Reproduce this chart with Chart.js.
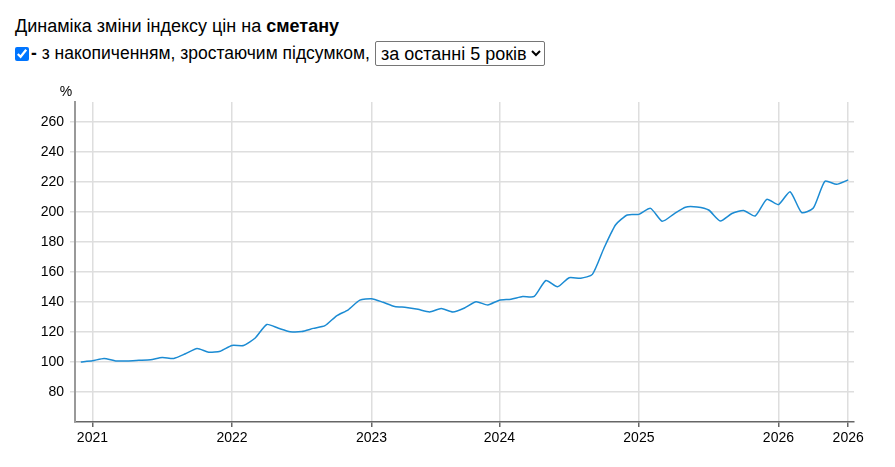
<!DOCTYPE html>
<html>
<head>
<meta charset="utf-8">
<script src="https://cdn.jsdelivr.net/npm/chart.js@4"></script>
<style>
  html, body { margin: 0; padding: 0; background: #fff; }
  body { width: 895px; height: 467px; position: relative; overflow: hidden; font-family: "Liberation Sans", Arial, sans-serif; font-size: 18px; color: #000; }
  #hdr { position: absolute; left: 15px; top: 16px; line-height: 21px; }
  #hdr .row2 { margin-top: 4px; display: flex; align-items: center; height: 25px; font-size: 17.5px; }
  #hdr input { margin: 0 2px 0 0; width: 14px; height: 14px; }
  #hdr select { font-family: "Liberation Sans", Arial, sans-serif; font-size: 18px; height: 25px; margin-left: 5px; padding: 0 1px; border: 1px solid #767676; border-radius: 2px; background: #fff; color: #000; }
  #wrap { position: absolute; left: 0; top: 85px; width: 895px; height: 382px; }
</style>
</head>
<body>
<div id="hdr">
  <div>Динаміка зміни індексу цін на <b>сметану</b></div>
  <div class="row2"><input type="checkbox" checked><b>-</b>&nbsp;з накопиченням, зростаючим підсумком, <select><option>за останні 5 років</option></select></div>
</div>
<div id="wrap"><canvas id="c"></canvas></div>
<script>
// Categories (monthly observations)
const months = [
  '2020-12',
  '2021-01','2021-02','2021-03','2021-04','2021-05','2021-06','2021-07','2021-08','2021-09','2021-10','2021-11','2021-12',
  '2022-01','2022-02','2022-03','2022-04','2022-05','2022-06','2022-07','2022-08','2022-09','2022-10','2022-11','2022-12',
  '2023-01','2023-02','2023-03','2023-04','2023-05','2023-06','2023-08','2023-09','2023-10','2023-11','2023-12',
  '2024-01','2024-02','2024-03','2024-04','2024-05','2024-06','2024-07','2024-08','2024-09','2024-10','2024-11','2024-12',
  '2025-01','2025-02','2025-03','2025-04','2025-05','2025-06','2025-07','2025-08','2025-09','2025-10','2025-11','2025-12',
  '2026-01','2026-02','2026-03','2026-04','2026-05','2026-06','2026-07'
];
// Cumulative price index, %
const priceIndex = [
  100.0,
  100.8, 102.4, 100.7, 100.7, 101.1, 101.5, 103.0, 102.4, 105.5, 109.0, 106.5, 107.2,
  111.0, 111.0, 116.0, 125.0, 122.5, 120.2, 120.3, 122.4, 124.2, 130.8, 134.8, 141.2,
  142.2, 139.8, 137.0, 136.4, 135.1, 133.4, 135.6, 133.3, 136.0, 140.2, 138.0,
  141.2, 141.8, 143.6, 143.7, 154.3, 150.1, 156.2, 155.8, 158.4, 176.0, 191.5, 198.0,
  198.4, 202.4, 193.8, 198.6, 203.2, 203.3, 201.3, 194.0, 199.0, 201.0, 197.3, 208.4,
  204.9, 213.5, 199.6, 202.6, 220.5, 218.4, 221.4
];
// Y tick labels
const yTicks = [80, 100, 120, 140, 160, 180, 200, 220, 240, 260];
const yUnit = '%';

const FONT = '"Liberation Sans", Arial, sans-serif';
Chart.defaults.font.family = FONT;
Chart.defaults.font.size = 14;
Chart.defaults.color = '#000';

// x ticks: first month of each year plus the last observation
const xTickIdx = months.map((m, i) => (m.endsWith('-01') || i === months.length - 1) ? i : -1).filter(i => i >= 0);

const unitPlugin = {
  id: 'unitLabel',
  afterDraw(chart) {
    const { ctx, chartArea } = chart;
    ctx.save();
    ctx.font = '14px ' + FONT;
    ctx.fillStyle = '#000';
    ctx.textAlign = 'center';
    ctx.textBaseline = 'middle';
    ctx.fillText(yUnit, chartArea.left - 9, chartArea.top - 10);
    ctx.restore();
  }
};

new Chart(document.getElementById('c'), {
  type: 'line',
  data: {
    labels: months,
    datasets: [{
      data: priceIndex,
      borderColor: '#1b8bd3',
      borderWidth: 1.5,
      pointRadius: 0,
      pointHoverRadius: 0,
      fill: false,
      tension: 0.2
    }]
  },
  options: {
    responsive: true,
    maintainAspectRatio: false,
    animation: false,
    layout: { padding: { top: 17, right: 41, left: 0, bottom: 0 } },
    plugins: { legend: { display: false }, tooltip: { enabled: false }, title: { display: false } },
    scales: {
      x: {
        type: 'category',
        offset: true,
        grid: { color: '#dedede', lineWidth: 1.5, tickColor: '#666', tickLength: 5, offset: false },
        border: { color: '#666', width: 1.5 },
        ticks: {
          autoSkip: false, maxRotation: 0, padding: 3,
          callback: function (v) { return months[v].slice(0, 4); }
        },
        afterBuildTicks(scale) { scale.ticks = xTickIdx.map(i => ({ value: i })); },
        afterFit(scale) { scale.height = 45; }
      },
      y: {
        min: 60,
        max: 273.3,
        grid: { color: '#dedede', lineWidth: 1.5, tickColor: '#dedede', tickLength: 5 },
        border: { color: '#999', width: 2 },
        ticks: { padding: 6 },
        afterBuildTicks(scale) { scale.ticks = yTicks.map(v => ({ value: v })); },
        afterFit(scale) { scale.width = 75; }
      }
    }
  },
  plugins: [unitPlugin]
});
</script>
</body>
</html>
